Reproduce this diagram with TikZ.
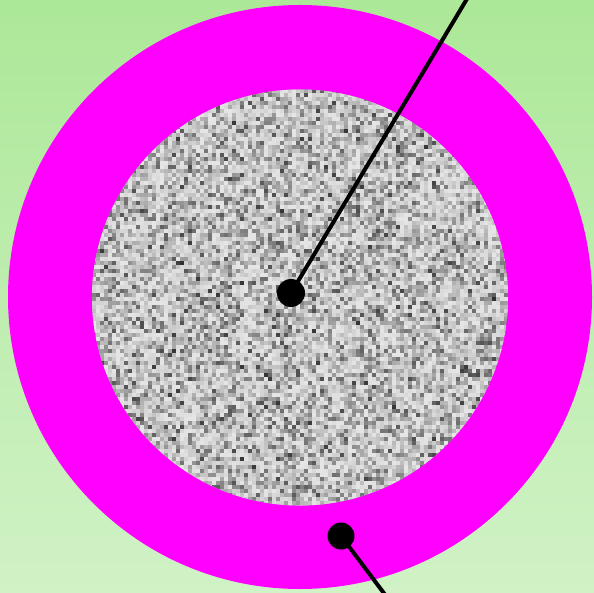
\documentclass[tikz,border=0pt]{standalone}
\definecolor{bgtop}{RGB}{172,232,152}
\definecolor{bgbot}{RGB}{208,242,198}
\definecolor{ring}{RGB}{255,0,255}
\tikzset{
  dot/.style={circle, fill=black, inner sep=0pt},
  wire/.style={line width=4pt, black},
}
\begin{document}
\begin{tikzpicture}[x=1pt,y=-1pt]
\useasboundingbox (0,0) rectangle (594,593);
\shade[top color=bgtop, bottom color=bgbot] (0,0) rectangle (594,593);
\fill[ring] (300,297) circle (292);
\pgfmathsetseed{7}
\begin{scope}
\clip (300,297.5) circle (208);
\fill[black!28] (300,297.5) circle (208);
\foreach \j in {0,...,104} {
  \pgfmathsetmacro\yy{89+4*\j}
  \pgfmathsetmacro\dy{min(1,abs(\yy+2-297.5)/212)}
  \pgfmathsetmacro\hw{212*sqrt(1-\dy*\dy)}
  \pgfmathtruncatemacro\ia{max(0,floor((300-\hw-92)/4))}
  \pgfmathtruncatemacro\ib{min(104,ceil((300+\hw-92)/4))}
  \foreach \i in {\ia,...,\ib} {
    \pgfmathsetmacro\xx{92+4*\i}
    \pgfmathtruncatemacro\g{10+72*rnd*rnd}
    \fill[black!\g] (\xx,\yy) rectangle ++(4.2,4.2);
  }
}
\end{scope}
\node[dot, minimum size=28pt] (c) at (291,293) {};
\coordinate (t) at (467.5,-2);
\draw[wire] (c.center) -- (t);
\node[dot, minimum size=27pt] (b) at (341,536) {};
\coordinate (e) at (386,596);
\draw[wire] (b.center) -- (e);
\end{tikzpicture}
\end{document}
